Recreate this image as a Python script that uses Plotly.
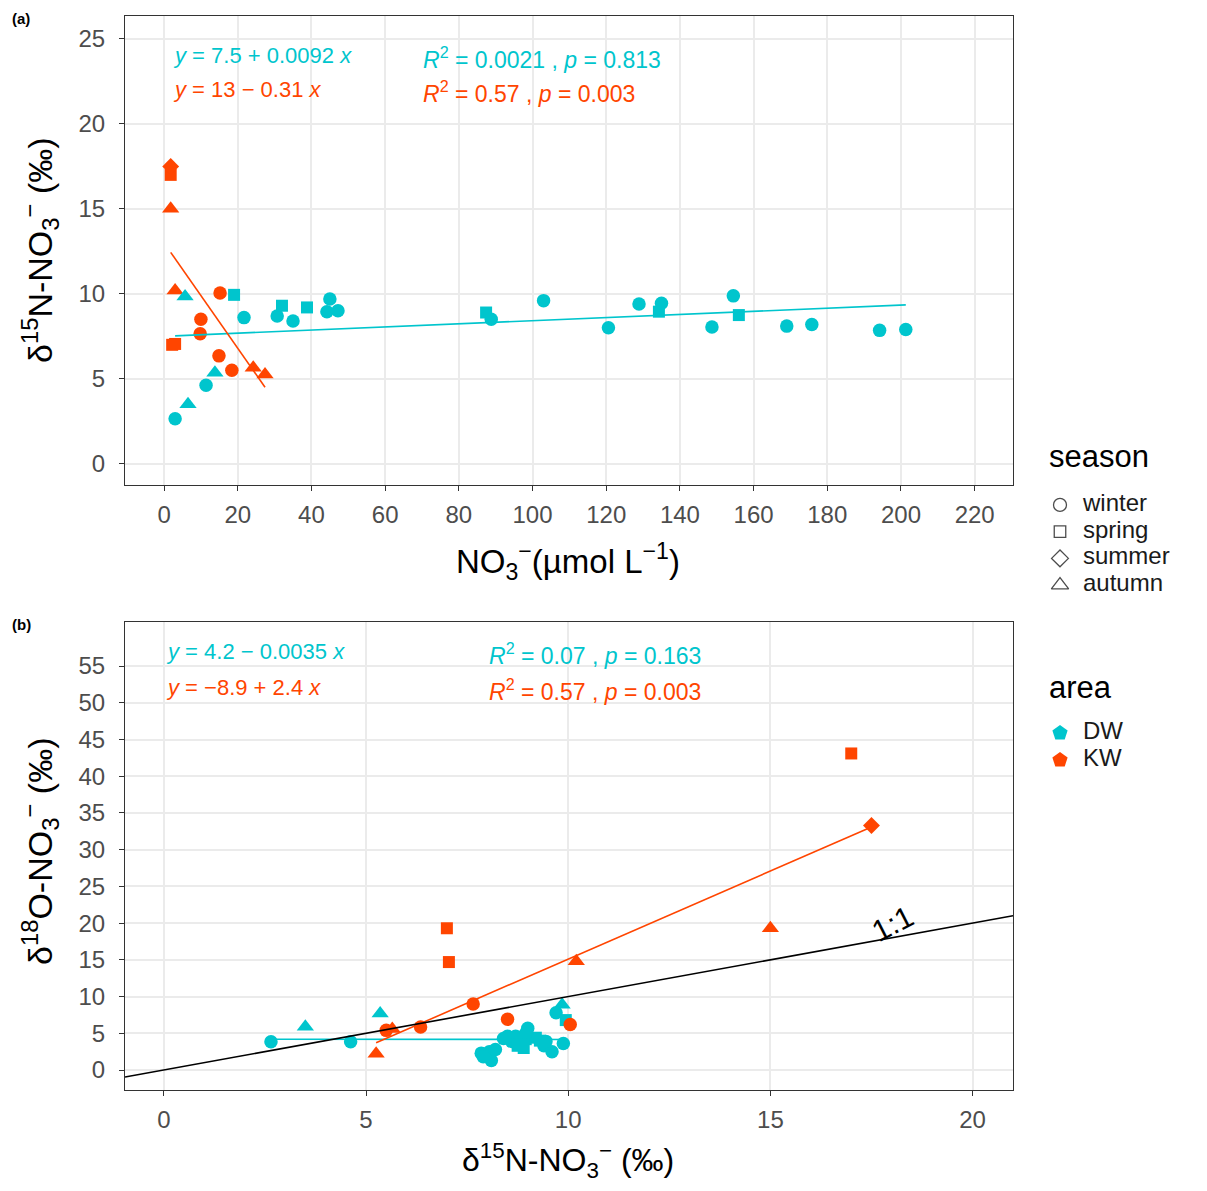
import plotly.graph_objects as go

# page: body has an 8px margin, so the figure is drawn from (8, 8)
OFF = 8
FW, FH = 1191, 1175
TEAL = "#00C5CD"
ORANGE = "#FF4500"
FONT = "Liberation Sans"

# ---------------- data ----------------
# DW samples
dw_no3 = [3.0, 6.5, 11.4, 13.8, 5.7, 19.0, 21.7, 30.7, 32.0, 35.0, 38.8, 44.2, 45.0, 47.2,
          87.4, 88.8, 103.0, 120.6, 128.9, 134.3, 135.0, 148.7, 154.5, 156.0, 169.0, 175.8, 194.2, 201.3]
dw_d15n = [2.65, 3.5, 4.62, 5.35, 9.85, 9.94, 8.6, 8.7, 9.3, 8.4, 9.2, 8.95, 9.7, 9.0,
           8.9, 8.5, 9.6, 8.0, 9.4, 8.95, 9.45, 8.05, 9.88, 8.75, 8.1, 8.2, 7.85, 7.9]
dw_d18o = [3.85, 5.9, 3.85, 7.7, 8.9, 6.8, 3.9, 4.6, 4.0, 4.3, 4.4, 5.0, 7.8, 5.7,
           3.0, 4.6, 2.5, 2.0, 3.3, 4.2, 3.9, 2.5, 3.6, 3.3, 1.3, 2.8, 2.3, 1.8]
dw_season = ["winter", "autumn", "winter", "autumn", "autumn", "spring", "winter", "winter", "spring",
             "winter", "spring", "winter", "winter", "winter", "spring", "winter", "winter", "winter",
             "winter", "spring", "winter", "winter", "winter", "spring", "winter", "winter", "winter", "winter"]

# KW samples
kw_no3 = [1.8, 1.8, 1.8, 3.0, 2.2, 3.0, 15.2, 10.0, 9.8, 14.9, 18.4, 24.2, 27.4]
kw_d15n = [17.0, 17.5, 15.0, 10.2, 7.0, 7.05, 10.05, 8.5, 7.65, 6.35, 5.5, 5.65, 5.25]
kw_d18o = [43.1, 33.3, 19.3, 14.8, 19.3, 14.7, 6.2, 6.9, 9.0, 5.85, 5.4, 5.6, 2.2]
kw_season = ["spring", "summer", "autumn", "autumn", "spring", "spring", "winter", "winter",
             "winter", "winter", "winter", "autumn", "autumn"]

# fitted regression coefficients (intercept, slope) shown on the chart
fit_a_dw = [7.5, 0.0092]
fit_a_kw = [13.0, -0.31]
fit_b_dw = [4.2, -0.0035]
fit_b_kw = [-8.9, 2.4]

seasons = ["winter", "spring", "summer", "autumn"]
areas = ["DW", "KW"]
area_colors = [TEAL, ORANGE]

a_xticks = list(range(0, 221, 20))
a_yticks = list(range(0, 26, 5))
b_xticks = list(range(0, 21, 5))
b_yticks = list(range(0, 56, 5))

# ---------------- styling helpers ----------------
SYM = {"winter": "circle", "spring": "square", "summer": "diamond", "autumn": "triangle-up"}
SIZE = {"winter": 13.5, "spring": 12, "summer": 13, "autumn": 15}
LSIZE = {"winter": 13, "spring": 11.5, "summer": 13, "autumn": 15}


def px2x(px):
    return (px - OFF) / FW


def py2y(py):
    return 1 - (py - OFF) / FH


fig = go.Figure()


def add_points(x, y, season, color, xa, ya):
    fig.add_trace(go.Scatter(
        x=x, y=y, mode="markers", xaxis=xa, yaxis=ya, showlegend=False,
        marker=dict(color=color, symbol=[SYM[s] for s in season], opacity=1,
                    size=[SIZE[s] for s in season], line=dict(width=0)),
        hoverinfo="skip"))


def add_fit(x, coef, color, xa, ya):
    xs = [min(x), max(x)]
    ys = [coef[0] + coef[1] * v for v in xs]
    fig.add_trace(go.Scatter(x=xs, y=ys, mode="lines", xaxis=xa, yaxis=ya, showlegend=False,
                             line=dict(color=color, width=1.6), hoverinfo="skip"))


# panel (a)
add_points(kw_no3, kw_d15n, kw_season, ORANGE, "x", "y")
add_points(dw_no3, dw_d15n, dw_season, TEAL, "x", "y")
add_fit(dw_no3, fit_a_dw, TEAL, "x", "y")
add_fit(kw_no3, fit_a_kw, ORANGE, "x", "y")

# panel (b)
add_points(dw_d15n, dw_d18o, dw_season, TEAL, "x2", "y2")
add_points(kw_d15n, kw_d18o, kw_season, ORANGE, "x2", "y2")
add_fit(dw_d15n, fit_b_dw, TEAL, "x2", "y2")
add_fit(kw_d15n, fit_b_kw, ORANGE, "x2", "y2")
# 1:1 line
b_xrange = [-0.96, 21.0]
fig.add_trace(go.Scatter(x=b_xrange, y=b_xrange, mode="lines", xaxis="x2", yaxis="y2",
                         showlegend=False, line=dict(color="black", width=1.6), hoverinfo="skip"))

# ---- legend keys (drawn on hidden category axes) ----
KEY_X, LABEL_X = 1060, 1083
LEG_FONT = 24
fig.add_trace(go.Scatter(
    x=[KEY_X] * len(seasons), y=seasons, mode="markers", xaxis="x3", yaxis="y3", showlegend=False,
    marker=dict(symbol=[SYM[s] + "-open" for s in seasons], size=[LSIZE[s] for s in seasons],
                color="#4D4D4D", opacity=1, line=dict(width=1.3, color="#4D4D4D")),
    hoverinfo="skip"))
fig.add_trace(go.Scatter(
    x=[LABEL_X] * len(seasons), y=seasons, text=seasons, mode="text", textposition="middle right",
    xaxis="x3", yaxis="y3", showlegend=False,
    textfont=dict(family=FONT, size=LEG_FONT, color="#1A1A1A"), hoverinfo="skip"))
fig.add_trace(go.Scatter(
    x=[KEY_X] * len(areas), y=areas, mode="markers", xaxis="x4", yaxis="y4", showlegend=False,
    marker=dict(symbol="pentagon", size=16, color=area_colors, opacity=1, line=dict(width=0)),
    hoverinfo="skip"))
fig.add_trace(go.Scatter(
    x=[LABEL_X] * len(areas), y=areas, text=areas, mode="text", textposition="middle right",
    xaxis="x4", yaxis="y4", showlegend=False,
    textfont=dict(family=FONT, size=LEG_FONT, color="#1A1A1A"), hoverinfo="skip"))

axis_common = dict(showline=True, mirror=True, linecolor="#333333", linewidth=1.2,
                   ticks="outside", ticklen=5, tickwidth=1.2, tickcolor="#333333",
                   tickfont=dict(family=FONT, size=24, color="#4D4D4D"),
                   gridcolor="#EBEBEB", gridwidth=1.5, zeroline=False,
                   showgrid=True, automargin=False)
hidden = dict(visible=False, showgrid=False, zeroline=False, fixedrange=True)

fig.update_layout(
    width=FW, height=FH, margin=dict(l=0, r=0, t=0, b=0),
    paper_bgcolor="white", plot_bgcolor="white",
    font=dict(family=FONT, color="black"),
    showlegend=False,
    xaxis=dict(domain=[px2x(125), px2x(1013)], range=[-10.6, 230.4], anchor="y",
               tickvals=a_xticks, ticklabelstandoff=3, **axis_common),
    yaxis=dict(domain=[py2y(485), py2y(16)], range=[-1.25, 26.35], anchor="x",
               tickvals=a_yticks, ticklabelstandoff=9, **axis_common),
    xaxis2=dict(domain=[px2x(125), px2x(1013)], range=b_xrange, anchor="y2",
                tickvals=b_xticks, ticklabelstandoff=3, **axis_common),
    yaxis2=dict(domain=[py2y(1090), py2y(622)], range=[-2.72, 61.0], anchor="x2",
                tickvals=b_yticks, ticklabelstandoff=9, **axis_common),
    xaxis3=dict(domain=[px2x(1040), px2x(1199)], range=[1040, 1199], anchor="y3", **hidden),
    yaxis3=dict(domain=[py2y(598.5), py2y(491.5)], range=[3.5, -0.5], type="category",
                anchor="x3", **hidden),
    xaxis4=dict(domain=[px2x(1040), px2x(1199)], range=[1040, 1199], anchor="y4", **hidden),
    yaxis4=dict(domain=[py2y(773.5), py2y(719.5)], range=[1.5, -0.5], type="category",
                anchor="x4", **hidden),
)

ann = []


def txt(px, py, text, color="black", size=22, xanchor="left", angle=0):
    ann.append(dict(x=px2x(px), y=py2y(py), xref="paper", yref="paper", text=text,
                    showarrow=False, xanchor=xanchor, yanchor="middle", textangle=angle,
                    font=dict(family=FONT, size=size, color=color)))


# panel labels
txt(10, 18, "<b>(a)</b>", size=15)
txt(10, 624, "<b>(b)</b>", size=15)

# equations panel (a)
txt(171, 55, "<i>y</i> = 7.5 + 0.0092 <i>x</i>", TEAL)
txt(171, 89, "<i>y</i> = 13 − 0.31 <i>x</i>", ORANGE)
txt(421, 58, "<i>R</i><sup>2</sup> = 0.0021 , <i>p</i> = 0.813", TEAL, size=23)
txt(421, 92, "<i>R</i><sup>2</sup> = 0.57 , <i>p</i> = 0.003", ORANGE, size=23)

# equations panel (b)
txt(164, 651, "<i>y</i> = 4.2 − 0.0035 <i>x</i>", TEAL)
txt(164, 687, "<i>y</i> = −8.9 + 2.4 <i>x</i>", ORANGE)
txt(487, 654, "<i>R</i><sup>2</sup> = 0.07 , <i>p</i> = 0.163", TEAL, size=23)
txt(487, 690, "<i>R</i><sup>2</sup> = 0.57 , <i>p</i> = 0.003", ORANGE, size=23)

# 1:1 label
txt(893, 924, "1:1", size=30, xanchor="center", angle=-27)

# axis titles
txt(568, 561, "NO<sub>3</sub><sup>−</sup>(µmol L<sup>−1</sup>)", size=33, xanchor="center")
txt(40, 250, "δ<sup>15</sup>N-NO<sub>3</sub><sup>−</sup> (‰)", size=34, xanchor="center", angle=-90)
txt(568, 1160, "δ<sup>15</sup>N-NO<sub>3</sub><sup>−</sup> (‰)", size=32, xanchor="center")
txt(40, 852, "δ<sup>18</sup>O-NO<sub>3</sub><sup>−</sup> (‰)", size=34, xanchor="center", angle=-90)

# legend titles
txt(1047, 457, "season", size=31)
txt(1047, 687, "area", size=31)

fig.update_layout(annotations=ann)
fig.write_html("out.html")
